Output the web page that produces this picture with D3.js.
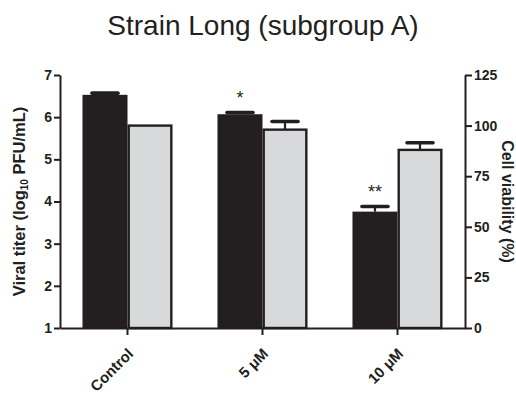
<!DOCTYPE html>
<html>
<head>
<meta charset="utf-8">
<script src="https://cdn.jsdelivr.net/npm/d3@7"></script>
<style>
  body { margin: 0; background: #fff; }
  svg { display: block; font-family: "Liberation Sans", Arial, sans-serif; }
</style>
</head>
<body>
<div id="chart"></div>
<script>
// Strain Long (subgroup A) - dual axis bar chart
(function () {
  ///////////////////////////////////////////////////////////// ! Data
  const categories = ["Control", "5 μM", "10 μM"];
  const titerValues = [6.53, 6.07, 3.76]; // log10 PFU/mL (left axis)
  const titerErrors = [0.04, 0.04, 0.12];
  const viabilityValues = [100, 98, 88]; // % (right axis)
  const viabilityErrors = [0, 4, 3.5];
  const significance = ["", "*", "**"];
  const leftTicks = [1, 2, 3, 4, 5, 6, 7];
  const rightTicks = [0, 25, 50, 75, 100, 125];

  ///////////////////////////////////////////////////////////// ! Setup
  const W = 516, H = 396;
  const margin = { top: 75, right: 51, bottom: 68, left: 60 };
  const width = W - margin.left - margin.right;
  const height = H - margin.top - margin.bottom;

  const svg = d3.select("#chart").append("svg")
    .attr("width", W).attr("height", H);

  const g = svg.append("g")
    .attr("transform", `translate(${margin.left},${margin.top})`);

  ///////////////////////////////////////////////////////////// ! Scales
  const x0 = d3.scaleBand().domain(categories).range([0, width]).paddingInner(0.333).paddingOuter(0.1665);
  const x1 = d3.scaleBand().domain(["titer", "viability"]).range([0, x0.bandwidth()]);
  const yLeft = d3.scaleLinear().domain([1, 7]).range([height, 0]);
  const yRight = d3.scaleLinear().domain([0, 125]).range([height, 0]);

  ///////////////////////////////////////////////////////////// ! Bars
  const groups = g.selectAll(".grp").data(categories).enter().append("g")
    .attr("transform", (d) => `translate(${x0(d)},0)`);

  // black bars (viral titer)
  groups.append("rect")
    .attr("x", x1("titer"))
    .attr("width", x1.bandwidth())
    .attr("y", (d, i) => yLeft(titerValues[i]))
    .attr("height", (d, i) => height - yLeft(titerValues[i]))
    .style("fill", "#231f20");

  // gray bars (cell viability)
  groups.append("rect")
    .attr("x", x1("viability") + 1.2)
    .attr("width", x1.bandwidth() - 2.4)
    .attr("y", (d, i) => yRight(viabilityValues[i]))
    .attr("height", (d, i) => height - yRight(viabilityValues[i]))
    .style("fill", "#d8d9db")
    .style("stroke", "#231f20")
    .style("stroke-width", 2.4);

  // error bars
  const capW = 26;
  groups.each(function (d, i) {
    const grp = d3.select(this);
    const bars = [
      { cx: x1("titer") + x1.bandwidth() / 2, top: yLeft(titerValues[i]), end: yLeft(titerValues[i] + titerErrors[i]) },
      { cx: x1("viability") + x1.bandwidth() / 2, top: yRight(viabilityValues[i]), end: yRight(viabilityValues[i] + viabilityErrors[i]) },
    ];
    bars.forEach((b) => {
      if (b.top - b.end < 0.5) return;
      grp.append("line")
        .attr("x1", b.cx).attr("x2", b.cx)
        .attr("y1", b.top).attr("y2", b.end)
        .style("stroke", "#231f20").style("stroke-width", 2.2);
      grp.append("line")
        .attr("x1", b.cx - capW / 2).attr("x2", b.cx + capW / 2)
        .attr("y1", b.end).attr("y2", b.end)
        .style("stroke", "#231f20").style("stroke-width", 3.6)
        .style("stroke-linecap", "round");
    });
    // significance stars
    if (significance[i]) {
      grp.append("text")
        .attr("x", x1("titer") + x1.bandwidth() / 2)
        .attr("y", yLeft(titerValues[i] + titerErrors[i]) - 9)
        .attr("text-anchor", "middle")
        .style("font-size", "18px")
        .style("fill", "#231f20")
        .text(significance[i]);
    }
  });

  ///////////////////////////////////////////////////////////// ! Axes
  const axisStyle = (sel) => {
    sel.select(".domain").style("stroke", "#231f20").style("stroke-width", 2);
    sel.selectAll(".tick line").style("stroke", "#231f20").style("stroke-width", 2);
    sel.selectAll(".tick text")
      .style("font-size", "14px").style("font-weight", "bold").style("fill", "#231f20");
  };

  g.append("g")
    .call(d3.axisLeft(yLeft).tickValues(leftTicks).tickSize(6).tickSizeOuter(0).tickPadding(2).tickFormat(d3.format("d")))
    .call(axisStyle);

  g.append("g")
    .attr("transform", `translate(${width},0)`)
    .call(d3.axisRight(yRight).tickValues(rightTicks).tickSize(7).tickSizeOuter(0).tickPadding(2).tickFormat(d3.format("d")))
    .call(axisStyle);

  const xAxis = g.append("g")
    .attr("transform", `translate(0,${height})`)
    .call(d3.axisBottom(x0).tickSize(7).tickSizeOuter(0))
    .call(axisStyle);
  xAxis.selectAll(".tick text")
    .style("font-size", "15px")
    .attr("text-anchor", "end")
    .attr("x", 0).attr("y", 0)
    .attr("dy", "0.35em")
    .attr("transform", "translate(3,23) rotate(-45)");

  ///////////////////////////////////////////////////////////// ! Labels
  svg.append("text")
    .attr("x", 263).attr("y", 35)
    .attr("text-anchor", "middle")
    .style("font-size", "28px")
    .style("fill", "#231f20")
    .text("Strain Long (subgroup A)");

  const leftLabel = svg.append("text")
    .attr("transform", `translate(25,${margin.top + height / 2}) rotate(-90)`)
    .attr("text-anchor", "middle")
    .style("font-size", "16.5px").style("font-weight", "bold").style("fill", "#231f20");
  leftLabel.append("tspan").text("Viral titer (log");
  leftLabel.append("tspan").attr("dy", 3).style("font-size", "10px").text("10");
  leftLabel.append("tspan").attr("dy", -3).text(" PFU/mL)");

  svg.append("text")
    .attr("transform", `translate(502,${margin.top + height / 2}) rotate(90)`)
    .attr("text-anchor", "middle")
    .style("font-size", "16px").style("font-weight", "bold").style("fill", "#231f20")
    .text("Cell viability (%)");
})();
</script>
</body>
</html>
